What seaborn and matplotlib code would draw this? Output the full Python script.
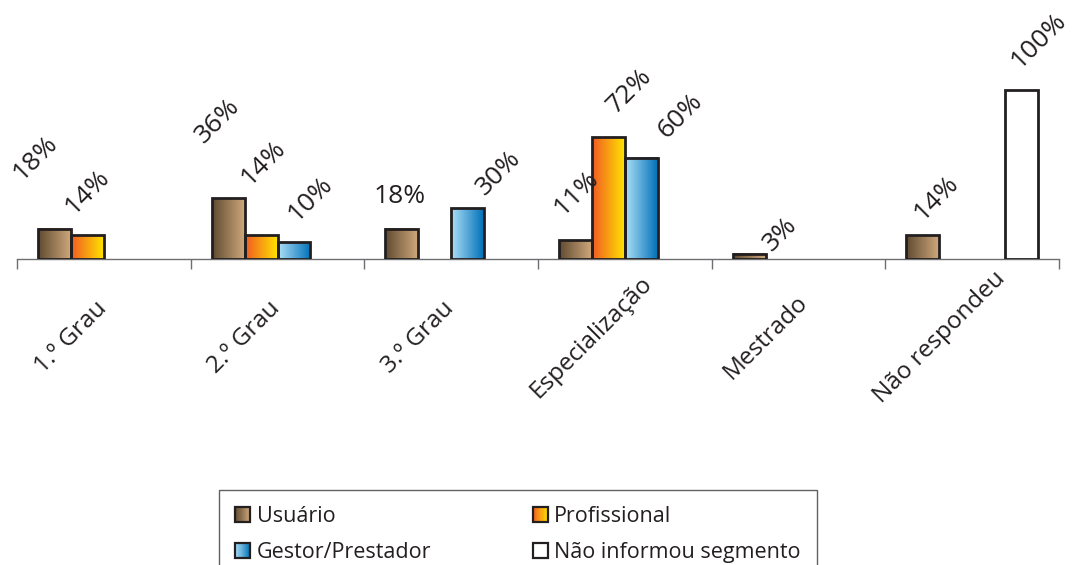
import numpy as np
import pandas as pd
import matplotlib
matplotlib.use("Agg")
import matplotlib.pyplot as plt
from matplotlib.colors import LinearSegmentedColormap
from matplotlib.legend_handler import HandlerBase
from matplotlib.patches import Rectangle
import seaborn as sns

# dados
categories = ["1.º Grau", "2.º Grau", "3.º Grau", "Especialização", "Mestrado", "Não respondeu"]
segments = ["Usuário", "Profissional", "Gestor/Prestador", "Não informou segmento"]
usuario = [18, 36, 18, 11, 3, 14]
profissional = [14, 14, None, 72, None, None]
gestor = [None, 10, 30, 60, None, None]
nao_informou = [None, None, None, None, None, 100]

# cores (gradiente esquerda -> direita)
grad_colors = {
    "Usuário": ("#5f4a30", "#cfa87c"),
    "Profissional": ("#f15a24", "#ffe400"),
    "Gestor/Prestador": ("#aee0f8", "#0070b8"),
    "Não informou segmento": ("#ffffff", "#ffffff"),
}
edge = "#231f20"
text_c = "#231f20"
axis_c = "#6d6e71"

# deslocamento dos rótulos (pixels) em relação ao topo de cada barra
label_nudge = {
    "Usuário": [(-19, 71), (-10, 77), (-2, 32), (1, 47), (31, 20), (14, 37)],
    "Profissional": [(0, 43), (2, 72), None, (21, 46), None, None],
    "Gestor/Prestador": [None, (16, 43), (31, 35), (39, 42), None, None],
    "Não informou segmento": [None, None, None, None, None, (17, 49)],
}
flat_labels = {("Usuário", 2)}

series = {"Usuário": usuario, "Profissional": profissional,
          "Gestor/Prestador": gestor, "Não informou segmento": nao_informou}
rows = []
for seg in segments:
    for cat, v in zip(categories, series[seg]):
        rows.append({"categoria": cat, "segmento": seg, "valor": v})
df = pd.DataFrame(rows).dropna()

sns.set_style("white")
plt.rcParams["font.family"] = ["Open Sans", "DejaVu Sans"]

W, H = 1072, 565
fig = plt.figure(figsize=(W / 100, H / 100), dpi=100)
base_y = 259
px_per_pct = 1.69
ax = fig.add_axes([17 / W, 1 - base_y / H, (1059 - 17) / W, base_y / H])

sns.barplot(data=df, x="categoria", y="valor", hue="segmento", order=categories,
            hue_order=segments, width=0.76, dodge=True, errorbar=None,
            saturation=1, legend=False, ax=ax)

grad = np.linspace(0, 1, 256).reshape(1, -1)
present = [s for s in segments if s in df["segmento"].unique()]
for seg, cont in zip(present, ax.containers):
    cmap = LinearSegmentedColormap.from_list(seg, grad_colors[seg])
    sub = df[df["segmento"] == seg]
    for bar, (_, r) in zip(cont.patches, sub.iterrows()):
        x0, w, h = bar.get_x(), bar.get_width(), bar.get_height()
        ax.imshow(grad, extent=[x0, x0 + w, 0, h], aspect="auto", cmap=cmap,
                  zorder=2, interpolation="bilinear")
        bar.set_facecolor("none")
        bar.set_edgecolor(edge)
        bar.set_linewidth(2.0)
        bar.set_zorder(3)
        ci = categories.index(r["categoria"])
        dx, dy = label_nudge[seg][ci]
        rot = 0 if (seg, ci) in flat_labels else 45
        ax.annotate(f"{int(r['valor'])}%", xy=(x0 + w / 2, h), xytext=(dx, dy),
                    textcoords="offset pixels", ha="center", va="center",
                    rotation=rot, rotation_mode="anchor", fontsize=19,
                    color=text_c, annotation_clip=False)

ax.set_xlim(-0.5, len(categories) - 0.5)
ax.set_ylim(0, base_y / px_per_pct)
ax.set_xticks(np.arange(len(categories) + 1) - 0.5)
ax.set_xticklabels([])
ax.set_yticks([])
ax.tick_params(axis="x", bottom=True, length=7.5, width=1, color=axis_c, direction="out")
ax.set_xlabel("")
ax.set_ylabel("")
for s in ["left", "top", "right"]:
    ax.spines[s].set_visible(False)
ax.spines["bottom"].set_color(axis_c)
ax.spines["bottom"].set_linewidth(1)
ax.patch.set_alpha(0)

for i, cat in enumerate(categories):
    ax.annotate(cat, xy=(i, 0), xytext=(-33, -78), textcoords="offset pixels",
                ha="center", va="center", rotation=45, rotation_mode="anchor",
                fontsize=17.5, color=text_c, annotation_clip=False)


class GradKey:
    def __init__(self, c0, c1):
        self.c0, self.c1 = c0, c1


class GradHandler(HandlerBase):
    def create_artists(self, legend, orig_handle, xdescent, ydescent,
                       width, height, fontsize, trans):
        cmap = LinearSegmentedColormap.from_list("k", [orig_handle.c0, orig_handle.c1])
        x0, y0 = -xdescent, -ydescent
        n = 14
        out = []
        for k in range(n):
            out.append(Rectangle((x0 + k * width / n, y0), width / n + 0.05, height,
                                 facecolor=cmap((k + 0.5) / n), edgecolor="none",
                                 lw=0, transform=trans))
        out.append(Rectangle((x0, y0), width, height, facecolor="none",
                             edgecolor=edge, lw=1.6, transform=trans))
        return out


leg_order = ["Usuário", "Gestor/Prestador", "Profissional", "Não informou segmento"]
handles = [GradKey(*grad_colors[s]) for s in leg_order]
leg = fig.legend(handles, leg_order, handler_map={GradKey: GradHandler()},
                 ncol=2, loc="upper left", mode="expand",
                 bbox_to_anchor=(219 / W, 0, (817 - 219) / W, 1 - 490 / H),
                 fontsize=15.5, frameon=True, fancybox=False, shadow=False,
                 handlelength=0.7, handleheight=0.7, handletextpad=0.3,
                 labelspacing=0.7, borderpad=0.75, borderaxespad=0)
leg.get_frame().set_edgecolor("#3a3a3a")
leg.get_frame().set_linewidth(1.0)
for t in leg.get_texts():
    t.set_color(text_c)

fig.savefig("out.png", dpi=100)
